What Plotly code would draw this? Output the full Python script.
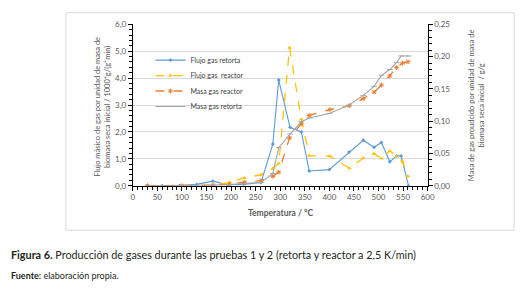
import plotly.graph_objects as go

# Data
t_retorta = [30, 60, 95, 130, 163, 194, 226, 261, 285, 297, 320, 343, 359, 400, 440, 469, 491, 506, 523, 537, 546, 561]
flujo_retorta = [0, 0, 0, 0.05, 0.17, 0.03, 0.05, 0.12, 1.55, 3.93, 2.17, 2.0, 0.55, 0.6, 1.25, 1.69, 1.43, 1.61, 0.89, 1.11, 1.11, 0.0]
masa_retorta = [0, 0, 0, 0, 0.001, 0.002, 0.003, 0.005, 0.019, 0.059, 0.080, 0.099, 0.105, 0.112, 0.125, 0.140, 0.154, 0.171, 0.180, 0.191, 0.201, 0.201]

t_reactor = [30, 100, 163, 197, 227, 261, 285, 297, 319, 343, 359, 401, 441, 469, 491, 506, 523, 537, 549, 560]
flujo_reactor = [0, 0, 0, 0.13, 0.29, 0.41, 0.64, 0.83, 5.13, 2.47, 1.12, 1.1, 0.65, 1.03, 1.19, 1.01, 1.29, 1.1, 0.89, 0.35]
masa_reactor = [0, 0, 0.001, 0.002, 0.0055, 0.008, 0.0145, 0.021, 0.074, 0.096, 0.109, 0.118, 0.124, 0.135, 0.145, 0.156, 0.170, 0.183, 0.190, 0.192]

W, H = 530, 299
def px(x): return x / W
def py(y): return (H - y) / H

FONT = "Lato"
fig = go.Figure()
fig.add_trace(go.Scatter(x=t_retorta, y=flujo_retorta, name="Flujo gas retorta", mode="lines+markers",
                         line=dict(color="#5B9BD5", width=1.1), marker=dict(size=3, symbol="diamond", color="#5B9BD5"),
                         yaxis="y", legend="legend"))
fig.add_trace(go.Scatter(x=t_reactor, y=flujo_reactor, name="Flujo gas  reactor", mode="lines+markers",
                         line=dict(color="#FFC000", width=1.3, dash="dash"), marker=dict(size=4, symbol="triangle-up", color="#FFC000"),
                         yaxis="y", legend="legend2"))
fig.add_trace(go.Scatter(x=t_reactor, y=masa_reactor, name="Masa gas reactor", mode="lines+markers",
                         line=dict(color="#ED7D31", width=1.3, dash="dash"), marker=dict(size=4, symbol="asterisk-open", color="#ED7D31", line=dict(width=1, color="#ED7D31")),
                         yaxis="y2", legend="legend3"))
fig.add_trace(go.Scatter(x=t_retorta, y=masa_retorta, name="Masa gas retorta", mode="lines+markers",
                         line=dict(color="#A5A5A5", width=1.1), marker=dict(size=4, symbol="line-ew-open", color="#A5A5A5", line=dict(width=1, color="#A5A5A5")),
                         yaxis="y2", legend="legend4"))

tickfont = dict(family=FONT, size=8, color="#595959")

def leg(ypage):
    return dict(x=px(151), y=py(ypage), xanchor="left", yanchor="middle", bgcolor="rgba(0,0,0,0)",
                font=dict(family=FONT, size=7, color="#404040"), itemwidth=30)

fig.update_layout(
    width=W, height=H, margin=dict(l=0, r=0, t=0, b=0), autosize=False,
    paper_bgcolor="white", plot_bgcolor="white",
    separators=",.",
    font=dict(family=FONT, color="#595959"),
    xaxis=dict(domain=[px(133), px(433)], range=[0, 600], dtick=50, tick0=0,
               showline=True, linecolor="black", linewidth=1, ticks="outside", ticklen=4, tickcolor="black",
               minor=dict(dtick=10, ticks="outside", ticklen=3, tickcolor="black"),
               showgrid=False, zeroline=False, tickfont=tickfont, fixedrange=True),
    yaxis=dict(domain=[py(187), py(20)], range=[0, 6], dtick=1, tickformat=".1f",
               showline=True, linecolor="black", linewidth=1, ticks="outside", ticklen=4, tickcolor="black",
               minor=dict(dtick=0.2, ticks="outside", ticklen=3, tickcolor="black", showgrid=False),
               showgrid=True, gridcolor="#D9D9D9", gridwidth=1, zeroline=False, tickfont=tickfont),
    yaxis2=dict(domain=[py(187), py(20)], range=[0, 0.25], dtick=0.05, tickformat=".2f", overlaying="y", side="right",
                anchor="x",
                showline=True, linecolor="black", linewidth=1, ticks="outside", ticklen=4, tickcolor="black",
                minor=dict(dtick=0.01, ticks="outside", ticklen=3, tickcolor="black", showgrid=False),
                showgrid=False, zeroline=False, tickfont=tickfont),
    legend=leg(57), legend2=leg(73), legend3=leg(89), legend4=leg(105),
    showlegend=True,
)

shapes = [dict(type="rect", xref="paper", yref="paper", x0=px(65), x1=px(521), y0=py(233), y1=py(8),
               line=dict(color="#D9D9D9", width=1), layer="below")]
fig.update_layout(shapes=shapes)

annotations = [
    dict(text="Flujo másico de gas por unidad de masa de<br>biomasa seca inicial / 1000*g/(g*min)", x=px(102), y=py(105),
         xref="paper", yref="paper", textangle=-90, showarrow=False, font=dict(family=FONT, size=7.5, color="#595959"),
         xanchor="center", yanchor="middle"),
    dict(text="Masa de gas proudcido por unidad de masa de<br>biomasa seca inicial  / g/g", x=px(483), y=py(104),
         xref="paper", yref="paper", textangle=-90, showarrow=False, font=dict(family=FONT, size=7.5, color="#595959"),
         xanchor="center", yanchor="middle"),
    dict(text="<b>Temperatura / °C</b>", x=px(283), y=py(215), xref="paper", yref="paper", showarrow=False,
         font=dict(family=FONT, size=8.5, color="#595959"), xanchor="center", yanchor="middle"),
    dict(text="<b>Figura 6.</b> Producción de gases durante las pruebas 1 y 2 (retorta y reactor a 2,5 K/min)",
         x=px(7), y=py(258), xref="paper", yref="paper", showarrow=False,
         font=dict(family=FONT, size=10.8, color="#231F20"), xanchor="left", yanchor="middle"),
    dict(text="<b>Fuente:</b> elaboración propia.", x=px(7), y=py(280), xref="paper", yref="paper", showarrow=False,
         font=dict(family=FONT, size=9, color="#231F20"), xanchor="left", yanchor="middle"),
]
fig.update_layout(annotations=annotations)

fig.write_html("out.html", config=dict(displayModeBar=False, responsive=False),
               post_script="document.body.style.margin='0';document.body.style.overflow='hidden';")
